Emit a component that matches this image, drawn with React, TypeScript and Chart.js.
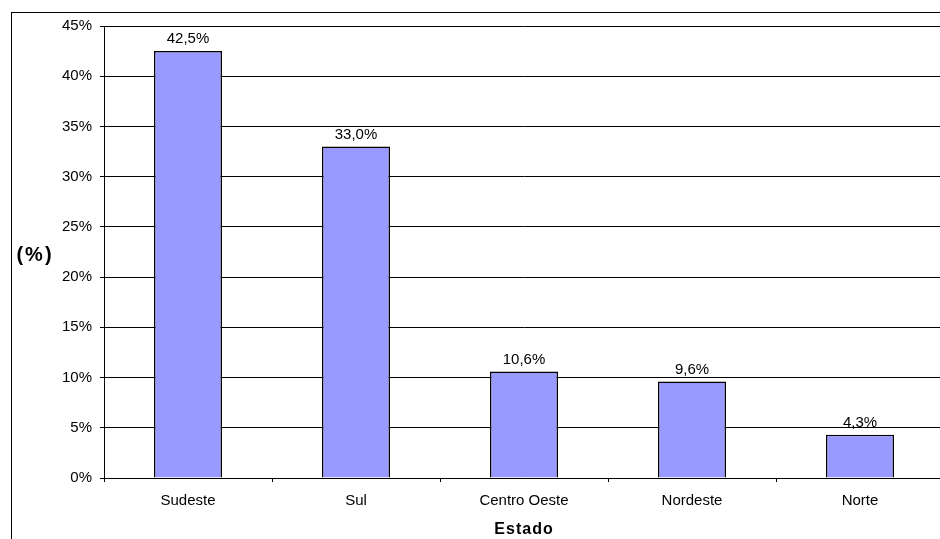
import React, { useEffect, useRef } from "react";
import { Chart, registerables } from "chart.js";

Chart.register(...registerables);

const categories = ["Sudeste", "Sul", "Centro Oeste", "Nordeste", "Norte"];
const values = [42.5, 33.0, 10.6, 9.6, 4.3];
const yMin = 0;
const yMax = 45;
const yStep = 5;
const yTitle = "(%)";
const xTitle = "Estado";

const FONT = "'Liberation Sans', Arial, sans-serif";

const fmt = (v: number) => v.toFixed(1).replace(".", ",") + "%";

export default function App() {
  const ref = useRef<HTMLCanvasElement | null>(null);

  useEffect(() => {
    const canvas = ref.current;
    if (!canvas) return;

    const decor = {
      id: "decor",
      beforeDraw(chart: any) {
        const ctx = chart.ctx;
        ctx.save();
        ctx.fillStyle = "#fff";
        ctx.fillRect(0, 0, chart.width, chart.height);
        ctx.strokeStyle = "#000";
        ctx.lineWidth = 1;
        ctx.strokeRect(11.5, 12.5, 3000, 3000);
        ctx.restore();
      },
      afterDatasetsDraw(chart: any) {
        const ctx = chart.ctx;
        const meta = chart.getDatasetMeta(0);
        ctx.save();
        ctx.fillStyle = "#000";
        ctx.font = `15px ${FONT}`;
        ctx.textAlign = "center";
        ctx.textBaseline = "alphabetic";
        meta.data.forEach((el: any, i: number) => {
          ctx.fillText(fmt(values[i]), el.x, el.y - 8);
        });
        ctx.restore();
      },
      afterDraw(chart: any) {
        const ctx = chart.ctx;
        const area = chart.chartArea;
        ctx.save();
        ctx.fillStyle = "#000";
        ctx.textBaseline = "alphabetic";
        ctx.textAlign = "center";
        ctx.font = `bold 20px ${FONT}`;
        (ctx as any).letterSpacing = "2px";
        ctx.fillText(yTitle, 35, 261);
        ctx.font = `bold 16px ${FONT}`;
        (ctx as any).letterSpacing = "1px";
        ctx.fillText(xTitle, (area.left + area.right) / 2, 534);
        ctx.restore();
      },
    };

    const chart = new Chart(canvas, {
      type: "bar",
      data: {
        labels: categories,
        datasets: [
          {
            data: values,
            backgroundColor: "#9999FF",
            borderColor: "#000",
            borderWidth: 1.5,
            categoryPercentage: 0.405,
            barPercentage: 1,
          },
        ],
      },
      options: {
        responsive: false,
        animation: false,
        devicePixelRatio: 1,
        layout: { padding: { top: 26, left: 0, right: 16, bottom: 0 } },
        plugins: {
          legend: { display: false },
          tooltip: { enabled: false },
          title: { display: false },
        },
        scales: {
          x: {
            offset: true,
            grid: {
              offset: true,
              drawOnChartArea: false,
              drawTicks: true,
              tickLength: 4,
              color: "#000",
            },
            border: { color: "#000", width: 1 },
            ticks: {
              color: "#000",
              font: { family: FONT, size: 15 },
              padding: 10,
              maxRotation: 0,
            },
            afterFit: (s: any) => {
              s.height = 82;
            },
          },
          y: {
            min: yMin,
            max: yMax,
            grid: { color: "#000", tickLength: 4, drawTicks: true },
            border: { color: "#000", width: 1 },
            ticks: {
              stepSize: yStep,
              color: "#000",
              font: { family: FONT, size: 15 },
              padding: 8,
              callback: (v: any) => `${v}%`,
            },
            afterFit: (s: any) => {
              s.width = 104;
            },
          },
        },
      },
      plugins: [decor],
    });

    return () => chart.destroy();
  }, []);

  return (
    <div
      style={{
        position: "fixed",
        left: 0,
        top: 0,
        width: 940,
        height: 539,
        overflow: "hidden",
        background: "#fff",
      }}
    >
      <canvas ref={ref} width={960} height={560} style={{ display: "block" }} />
    </div>
  );
}
